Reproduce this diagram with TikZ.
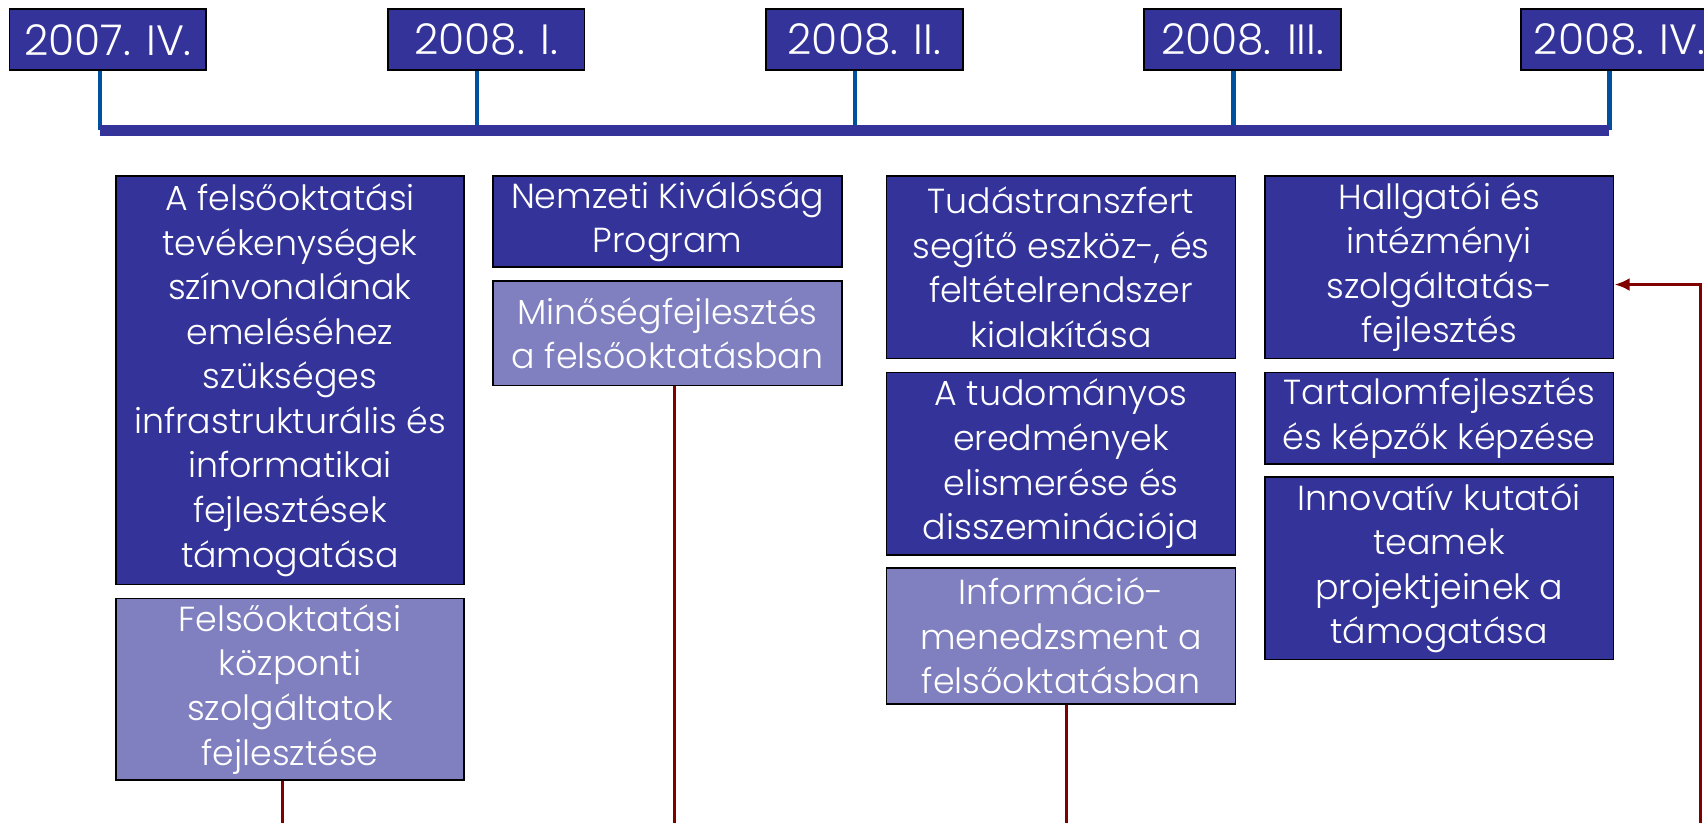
\documentclass[tikz,border=0pt]{standalone}
\usepackage{fontspec}
\setmainfont{Poppins}[UprightFont=* Light]
\usetikzlibrary{arrows.meta}
\definecolor{dblue}{HTML}{333399}
\definecolor{lblue}{HTML}{8080C0}
\definecolor{tickblue}{HTML}{0050A0}
\definecolor{dred}{HTML}{800000}
\begin{document}
\begin{tikzpicture}[x=0.5pt,y=-0.5pt,
  dbox/.style={draw=black, line width=0.8pt, fill=dblue, text=white, align=center,
    anchor=north west, inner sep=0pt, font=\fontsize{16}{20.5}\selectfont},
  lbox/.style={dbox, fill=lblue},
  datebox/.style={draw=black, line width=0.8pt, fill=dblue, text=white, anchor=west,
    inner xsep=0pt, inner ysep=0pt, minimum width=90.5pt, minimum height=28pt,
    font=\fontsize{19.5}{22}\selectfont},
  tickline/.style={draw=tickblue, line width=2pt},
  barline/.style={draw=dblue, line width=5pt},
  redline/.style={draw=dred, line width=1.4pt}]
\useasboundingbox (0,0) rectangle (1568,757);
% date labels
\node[datebox] (d1) at (8,36.5) {2007. IV.};
\node[datebox] (d2) at (356,36.5) {2008. I.};
\node[datebox] (d3) at (704,36.5) {2008. II.};
\node[datebox] (d4) at (1052,36.5) {2008. III.};
\node[datebox] (d5) at (1399,36.5) {2008. IV.};
\coordinate (t1) at (92,120);
\coordinate (t2) at (439,120);
\coordinate (t3) at (787,120);
\coordinate (t4) at (1135,120);
\coordinate (t5) at (1481,120);
\draw[tickline] (d1.south -| t1) -- (t1);
\draw[tickline] (d2.south -| t2) -- (t2);
\draw[tickline] (d3.south -| t3) -- (t3);
\draw[tickline] (d4.south -| t4) -- (t4);
\draw[tickline] (d5.south -| t5) -- (t5);
\draw[barline] (t1) -- (t5);
% column 1
\node[dbox, minimum width=160pt, minimum height=188pt] (b1) at (106,161)
  {A felsőoktatási\\tevékenységek\\színvonalának\\emeléséhez\\szükséges\\infrastrukturális és\\informatikai\\fejlesztések\\támogatása};
\node[lbox, minimum width=160pt, minimum height=83.5pt] (b1l) at (106,550)
  {Felsőoktatási\\központi\\szolgáltatok\\fejlesztése};
% column 2
\node[dbox, minimum width=160.5pt, minimum height=42pt] (b2) at (453,161)
  {Nemzeti Kiválóság\\Program};
\node[lbox, minimum width=160.5pt, minimum height=48pt] (b2l) at (453,258)
  {Minőségfejlesztés\\a felsőoktatásban};
% column 3
\node[dbox, minimum width=160.5pt, minimum height=84pt] (b3a) at (815,161)
  {Tudástranszfert\\segítő eszköz-, és\\feltételrendszer\\kialakítása};
\node[dbox, minimum width=160.5pt, minimum height=84pt] (b3b) at (815,342)
  {A tudományos\\eredmények\\elismerése és\\disszeminációja};
\node[lbox, minimum width=160.5pt, minimum height=62.5pt] (b3l) at (815,522)
  {Információ-\\menedzsment a\\felsőoktatásban};
% column 4
\node[dbox, minimum width=160.5pt, minimum height=84pt] (b4a) at (1163,161)
  {Hallgatói és\\intézményi\\szolgáltatás-\\fejlesztés};
\node[dbox, minimum width=160.5pt, minimum height=42pt] (b4b) at (1163,342)
  {Tartalomfejlesztés\\és képzők képzése};
\node[dbox, minimum width=160.5pt, minimum height=84pt] (b4c) at (1163,438)
  {Innovatív kutatói\\teamek\\projektjeinek a\\támogatása};
% red connectors
\coordinate (e1) at (260,757);
\coordinate (e2) at (621,757);
\coordinate (e3) at (981,757);
\coordinate (e4) at (1565,757);
\draw[redline] (b1l.south -| e1) -- (e1);
\draw[redline] (b2l.south -| e2) -- (e2);
\draw[redline] (b3l.south -| e3) -- (e3);
\draw[redline, -{Latex[length=7pt,width=6pt]}] (e4) |- ([yshift=-8pt]b4a.east);
\end{tikzpicture}
\end{document}
